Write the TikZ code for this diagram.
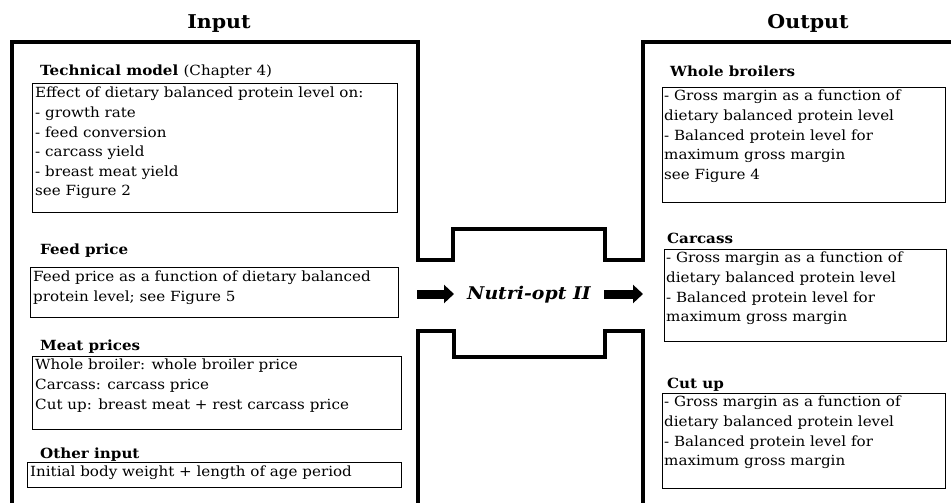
\documentclass[tikz,border=0pt]{standalone}
\usepackage{fontspec}
\setmainfont[FakeStretch=1.08]{DejaVu Serif}
\usetikzlibrary{arrows.meta}
\begin{document}
\begin{tikzpicture}[x=1pt,y=-1pt,
  frame/.style={line width=4pt, line join=miter},
  box/.style={draw, line width=1.2pt, inner sep=0pt, anchor=north west},
  txt/.style={anchor=north west, inner sep=0pt, align=left, font=\fontsize{14}{19.6}\selectfont},
  lbl/.style={anchor=base west, inner sep=0pt, font=\bfseries\fontsize{14}{16}\selectfont},
  ttl/.style={anchor=base, inner sep=0pt, font=\bfseries\fontsize{19}{21}\selectfont},
  bigarrow/.style={line width=9pt, -{Triangle[length=10pt,width=18pt]}}
]
\useasboundingbox (0,0) rectangle (951,503);
% titles
\node[ttl] (tin) at (219,29) {Input};
\node[ttl] (tout) at (808,29) {Output};
% frames
\draw[frame] (12,503) -- (12,42) -- (418,42) -- (418,260) -- (453,260) -- (453,229) -- (605,229) -- (605,260) -- (643,260) -- (643,42) -- (951,42);
\draw[frame] (418,503) -- (418,331) -- (454,331) -- (454,357) -- (605,357) -- (605,331) -- (643,331) -- (643,503);
% centre
\node[inner sep=0pt, font=\bfseries\itshape\fontsize{17.5}{20}\selectfont] (nutri) at (529,295) {Nutri-opt II};
\coordinate (a1s) at (417,294);
\coordinate (a1e) at (454,294);
\coordinate (a2s) at (604,294);
\coordinate (a2e) at (643,294);
\draw[bigarrow] (a1s) -- (a1e);
\draw[bigarrow] (a2s) -- (a2e);
% left column
\node[lbl] (l1) at (40,76) {Technical model \normalfont(Chapter 4)};
\node[box, minimum width=365pt, minimum height=129pt] (b1) at (32,83) {};
\node[txt] (t1) at ([xshift=3pt,yshift=-4pt]b1.north west) {Effect of dietary balanced protein level on:\\- growth rate\\- feed conversion\\- carcass yield\\- breast meat yield\\see Figure 2};
\node[lbl] (l2) at (40,254) {Feed price};
\node[box, minimum width=368pt, minimum height=50pt] (b2) at (30,267) {};
\node[txt] (t2) at ([xshift=3pt,yshift=-4pt]b2.north west) {Feed price as a function of dietary balanced\\protein level; see Figure 5};
\node[lbl] (l3) at (40,350) {Meat prices};
\node[box, minimum width=369pt, minimum height=73pt] (b3) at (32,356) {};
\node[txt] (t3) at ([xshift=3pt,yshift=-3pt]b3.north west) {Whole broiler: whole broiler price\\Carcass: carcass price\\Cut up: breast meat + rest carcass price};
\node[lbl] (l4) at (40,458) {Other input};
\node[box, minimum width=374pt, minimum height=25pt] (b4) at (27,462) {};
\node[txt] (t4) at ([xshift=3pt,yshift=-4pt]b4.north west) {Initial body weight + length of age period};
% right column
\node[lbl] (r1) at (670,77) {Whole broilers};
\node[box, minimum width=283pt, minimum height=115pt] (c1) at (662,87) {};
\node[txt] (u1) at ([xshift=2pt,yshift=-3pt]c1.north west) {- Gross margin as a function of\\dietary balanced protein level\\- Balanced protein level for\\maximum gross margin\\see Figure 4};
\node[lbl] (r2) at (667,243) {Carcass};
\node[box, minimum width=282pt, minimum height=92pt] (c2) at (664,249) {};
\node[txt] (u2) at ([xshift=2pt,yshift=-3pt]c2.north west) {- Gross margin as a function of\\dietary balanced protein level\\- Balanced protein level for\\maximum gross margin};
\node[lbl] (r3) at (667,388) {Cut up};
\node[box, minimum width=283pt, minimum height=95pt] (c3) at (662,393) {};
\node[txt] (u3) at ([xshift=2pt,yshift=-3pt]c3.north west) {- Gross margin as a function of\\dietary balanced protein level\\- Balanced protein level for\\maximum gross margin};
\end{tikzpicture}
\end{document}
